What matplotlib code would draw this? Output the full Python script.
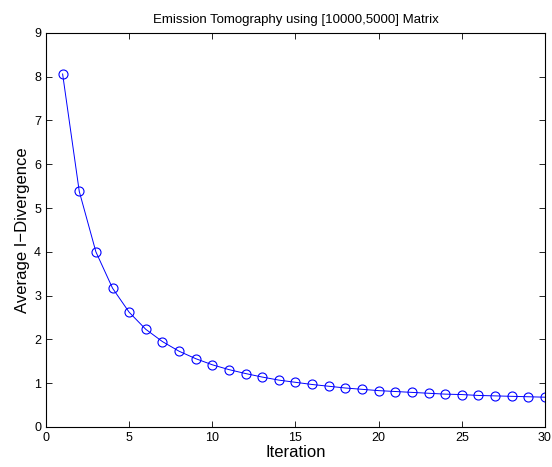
import matplotlib
matplotlib.use('Agg')
import matplotlib.pyplot as plt

# datos
iteracion = list(range(1, 31))
divergencia = [8.06, 5.38, 4.00, 3.17, 2.62, 2.23, 1.95, 1.73, 1.56, 1.42,
               1.31, 1.22, 1.14, 1.07, 1.02, 0.97, 0.93, 0.89, 0.86, 0.83,
               0.81, 0.79, 0.77, 0.75, 0.74, 0.72, 0.71, 0.70, 0.69, 0.68]
xticks = [0, 5, 10, 15, 20, 25, 30]
yticks = list(range(0, 10))

plt.rcParams['font.family'] = ['Liberation Sans', 'DejaVu Sans']

fig = plt.figure(figsize=(5.52, 4.67), dpi=100)
ax = fig.add_axes([0.0833, 0.0857, 0.904, 0.844])

ax.plot(iteracion, divergencia, color='blue', linewidth=0.7,
        marker='o', markersize=6.5, markerfacecolor='none',
        markeredgecolor='blue', markeredgewidth=0.8)

ax.set_xlim(0, 30)
ax.set_ylim(0, 9)
ax.set_xticks(xticks)
ax.set_yticks(yticks)
ax.tick_params(direction='in', top=True, right=True, labelsize=9, length=4, width=0.6)
for s in ax.spines.values():
    s.set_linewidth(0.8)

ax.set_title('Emission Tomography using [10000,5000] Matrix', fontsize=9.5, pad=7)
ax.set_xlabel('Iteration', fontsize=12, labelpad=1)
ax.set_ylabel('Average I\u2212Divergence', fontsize=12, labelpad=3)

fig.savefig('out.png', dpi=100)
